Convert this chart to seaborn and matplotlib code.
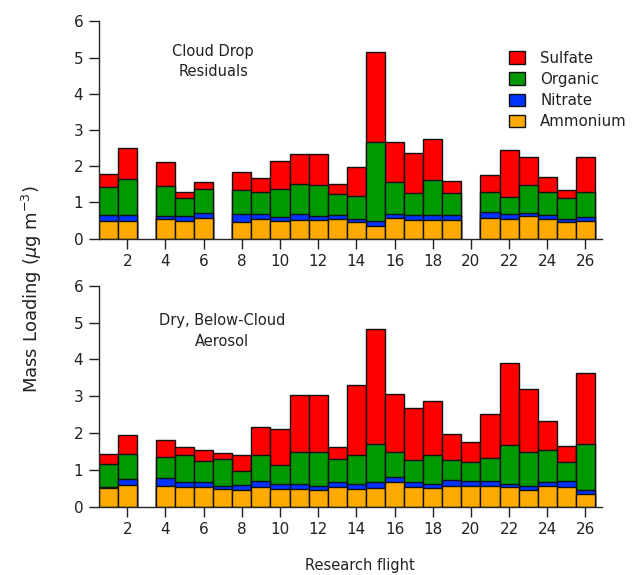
import numpy as np
import pandas as pd
import matplotlib
matplotlib.use("Agg")
import matplotlib.pyplot as plt
from matplotlib.patches import Patch
import seaborn as sns

# Research flights sampled in each panel
cloud_flights = [1, 2, 4, 5, 6, 8, 9, 10, 11, 12, 13, 14, 15, 16, 17, 18, 19,
                 21, 22, 23, 24, 25, 26]
cloud_ammonium = [0.49, 0.49, 0.53, 0.50, 0.58, 0.46, 0.54, 0.49, 0.51, 0.51, 0.54, 0.45,
                  0.36, 0.56, 0.51, 0.51, 0.51, 0.58, 0.55, 0.62, 0.53, 0.45, 0.49]
cloud_nitrate = [0.16, 0.16, 0.09, 0.12, 0.13, 0.21, 0.15, 0.11, 0.16, 0.12, 0.12, 0.08,
                 0.12, 0.13, 0.15, 0.13, 0.13, 0.15, 0.12, 0.10, 0.11, 0.10, 0.10]
cloud_organic = [0.78, 1.00, 0.84, 0.49, 0.66, 0.66, 0.60, 0.78, 0.85, 0.86, 0.56, 0.65,
                 2.20, 0.88, 0.60, 0.99, 0.61, 0.57, 0.48, 0.76, 0.66, 0.57, 0.69]
cloud_sulfate = [0.36, 0.84, 0.66, 0.18, 0.20, 0.51, 0.39, 0.76, 0.81, 0.84, 0.30, 0.80,
                 2.48, 1.09, 1.10, 1.11, 0.34, 0.46, 1.31, 0.78, 0.39, 0.21, 0.96]

aerosol_flights = [1, 2, 4, 5, 6, 7, 8, 9, 10, 11, 12, 13, 14, 15, 16, 17, 18, 19, 20,
                   21, 22, 23, 24, 25, 26]
aerosol_ammonium = [0.51, 0.58, 0.56, 0.54, 0.54, 0.47, 0.46, 0.54, 0.49, 0.49, 0.44, 0.53,
                    0.49, 0.51, 0.66, 0.54, 0.51, 0.55, 0.55, 0.55, 0.52, 0.44, 0.56, 0.52, 0.35]
aerosol_nitrate = [0.03, 0.16, 0.22, 0.14, 0.14, 0.08, 0.12, 0.15, 0.13, 0.13, 0.13, 0.15,
                   0.13, 0.15, 0.14, 0.12, 0.11, 0.16, 0.14, 0.14, 0.10, 0.13, 0.12, 0.17, 0.11]
aerosol_organic = [0.63, 0.68, 0.58, 0.73, 0.57, 0.74, 0.39, 0.71, 0.51, 0.87, 0.90, 0.61,
                   0.78, 1.04, 0.68, 0.60, 0.79, 0.55, 0.51, 0.64, 1.05, 0.90, 0.85, 0.52, 1.23]
aerosol_sulfate = [0.26, 0.52, 0.44, 0.20, 0.29, 0.17, 0.42, 0.76, 0.98, 1.53, 1.55, 0.32,
                   1.90, 3.12, 1.57, 1.42, 1.46, 0.70, 0.56, 1.19, 2.23, 1.72, 0.79, 0.44, 1.93]

species = ["Sulfate", "Organic", "Nitrate", "Ammonium"]
colors = {"Sulfate": "#FF0000", "Organic": "#009900",
          "Nitrate": "#0033FF", "Ammonium": "#FFAA00"}
xticks = list(range(2, 27, 2))

sns.set_theme(style="ticks")
plt.rcParams["font.family"] = ["DejaVu Sans"]
plt.rcParams["axes.linewidth"] = 1.0


def stacked_panel(ax, flights, amm, nit, org, sul):
    df = pd.DataFrame({"flight": flights, "Ammonium": amm, "Nitrate": nit,
                       "Organic": org, "Sulfate": sul})
    df["c_amm"] = df["Ammonium"]
    df["c_nit"] = df["c_amm"] + df["Nitrate"]
    df["c_org"] = df["c_nit"] + df["Organic"]
    df["c_sul"] = df["c_org"] + df["Sulfate"]
    # draw cumulative totals from the top layer down so each overlays the one above
    for col, sp in [("c_sul", "Sulfate"), ("c_org", "Organic"),
                    ("c_nit", "Nitrate"), ("c_amm", "Ammonium")]:
        sns.barplot(data=df, x="flight", y=col, native_scale=True, width=1.0,
                    color=colors[sp], saturation=1, edgecolor="#111111",
                    linewidth=1.0, errorbar=None, ax=ax)
    ax.set_xlim(0.5, 26.85)
    ax.set_ylim(0, 6)
    ax.set_yticks(range(0, 7))
    ax.set_xticks(xticks)
    ax.set_xticklabels([str(t) for t in xticks])
    ax.set_xlabel("")
    ax.set_ylabel("")
    ax.tick_params(axis="both", direction="out", length=7, width=1,
                   labelsize=11, color="#222222", labelcolor="#222222", pad=4)
    sns.despine(ax=ax)


fig = plt.figure(figsize=(6.32, 5.75), dpi=100)
ax_top = fig.add_axes([0.156, 0.585, 0.796, 0.378])
ax_bot = fig.add_axes([0.156, 0.119, 0.796, 0.384])

stacked_panel(ax_top, cloud_flights, cloud_ammonium, cloud_nitrate,
              cloud_organic, cloud_sulfate)
stacked_panel(ax_bot, aerosol_flights, aerosol_ammonium, aerosol_nitrate,
              aerosol_organic, aerosol_sulfate)

ax_top.text(0.228, 0.815, "Cloud Drop\nResiduals", transform=ax_top.transAxes,
            ha="center", va="center", fontsize=10.5, color="#222222",
            linespacing=1.45)
ax_bot.text(0.245, 0.795, "Dry, Below-Cloud\nAerosol", transform=ax_bot.transAxes,
            ha="center", va="center", fontsize=10.5, color="#222222",
            linespacing=1.45)

handles = [Patch(facecolor=colors[s], edgecolor="#111111", linewidth=1.0, label=s)
           for s in species]
ax_top.legend(handles=handles, loc="upper left", bbox_to_anchor=(0.80, 0.90),
              frameon=False, fontsize=10.8, handlelength=1.1, handleheight=0.9,
              handletextpad=1.0, labelspacing=0.42, borderpad=0,
              labelcolor="#222222")

fig.text(0.05, 0.497, r"Mass Loading ($\mu$g m$^{-3}$)", rotation=90,
         ha="center", va="center", fontsize=13, color="#222222")
fig.text(0.57, 0.016, "Research flight", ha="center", va="center",
         fontsize=10.5, color="#222222")

fig.savefig("out.png", dpi=100)
